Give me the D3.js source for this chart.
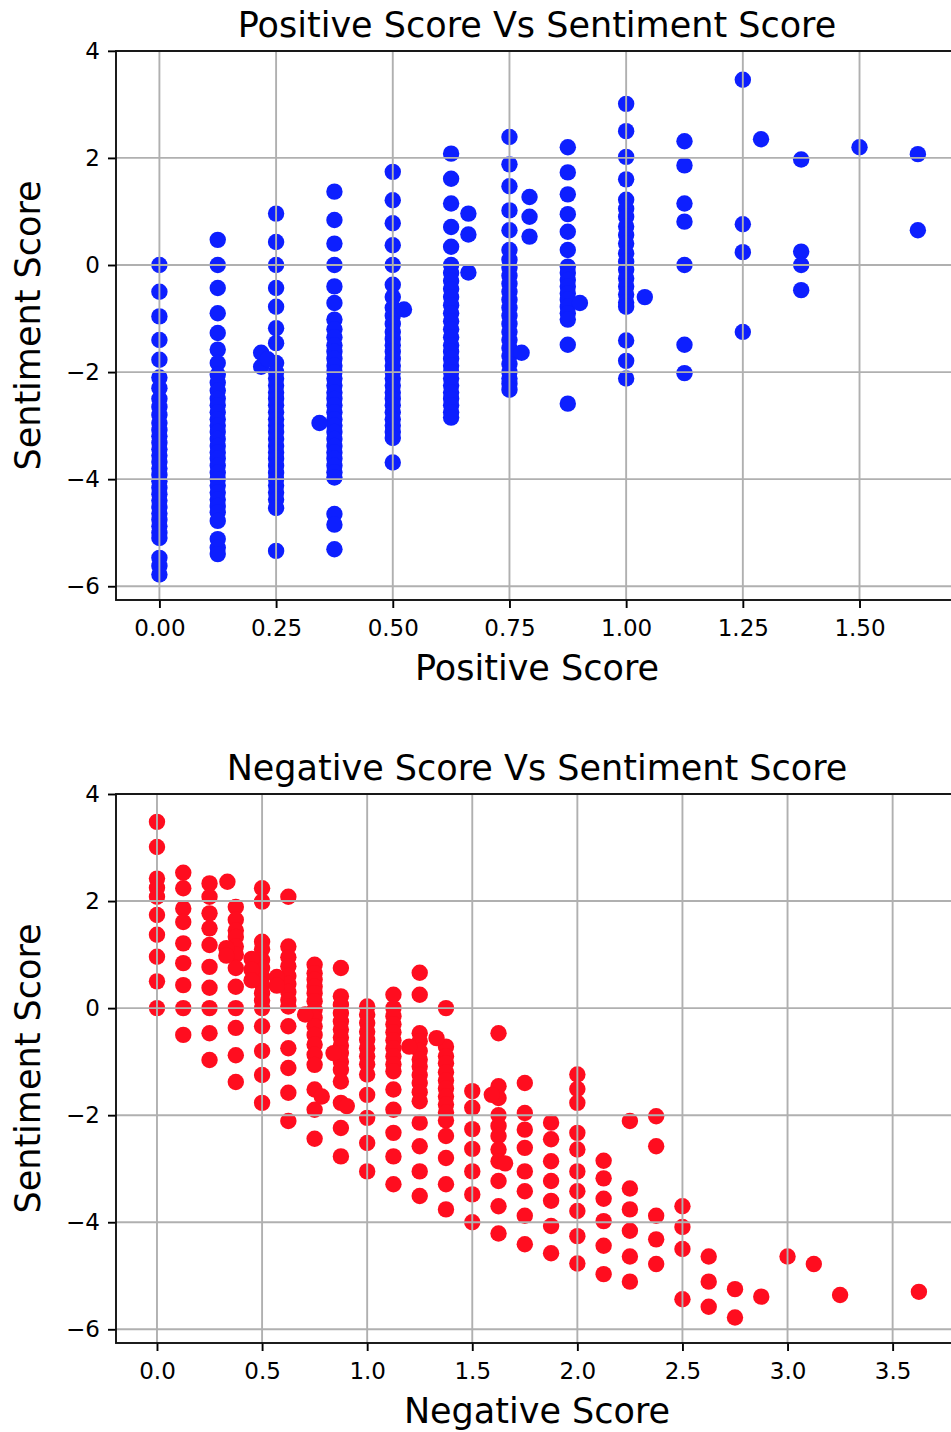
<!DOCTYPE html>
<html>
<head>
<meta charset="utf-8">
<script src="https://cdn.jsdelivr.net/npm/d3@7"></script>
<style>
  body { margin: 0; background: #fff; }
  svg text { font-family: "DejaVu Sans", sans-serif; fill: #000; }
</style>
</head>
<body>
<div id="graf"></div>
<script>
// Datos: Positive Score (columnas) vs Sentiment Score
const posCols = [0, 0.125, 0.25, 0.375, 0.5, 0.625, 0.75, 0.875, 1, 1.125, 1.25, 1.375, 1.5, 1.625]
const posSentiment = [
  [0, -0.5, -0.96, -1.4, -1.77, -2.1, -2.3, -2.5, -2.65, -2.8, -2.95, -3.08, -3.2, -3.32, -3.44, -3.56, -3.68, -3.8, -3.92, -4.04, -4.16, -4.28, -4.4, -4.52, -4.64, -4.76, -4.88, -5.0, -5.1, -5.47, -5.62, -5.78],
  [0.47, 0, -0.43, -0.9, -1.27, -1.58, -1.83, -2.05, -2.2, -2.35, -2.5, -2.62, -2.75, -2.88, -3.0, -3.12, -3.25, -3.38, -3.5, -3.62, -3.75, -3.88, -4.0, -4.12, -4.25, -4.38, -4.5, -4.62, -4.78, -5.12, -5.28, -5.4],
  [0.96, 0.43, 0, -0.43, -0.78, -1.18, -1.46, -1.83, -2.0, -2.12, -2.25, -2.38, -2.5, -2.62, -2.75, -2.88, -3.0, -3.12, -3.25, -3.38, -3.5, -3.62, -3.75, -3.88, -4.0, -4.12, -4.25, -4.38, -4.54, -5.34],
  [1.37, 0.84, 0.4, 0, -0.4, -0.71, -1.02, -1.2, -1.35, -1.5, -1.62, -1.75, -1.88, -2.0, -2.12, -2.25, -2.38, -2.5, -2.62, -2.75, -2.88, -3.0, -3.12, -3.25, -3.38, -3.5, -3.62, -3.75, -3.87, -3.97, -4.65, -4.85, -5.31],
  [1.74, 1.21, 0.78, 0.37, 0, -0.37, -0.6, -0.8, -0.95, -1.1, -1.25, -1.38, -1.5, -1.62, -1.75, -1.88, -2.0, -2.12, -2.25, -2.38, -2.5, -2.62, -2.75, -2.88, -3.0, -3.12, -3.23, -3.69],
  [2.08, 1.61, 1.15, 0.71, 0.34, 0, -0.15, -0.3, -0.45, -0.6, -0.75, -0.9, -1.05, -1.2, -1.35, -1.5, -1.62, -1.75, -1.88, -2.0, -2.12, -2.25, -2.38, -2.5, -2.62, -2.75, -2.85],
  [2.39, 1.88, 1.47, 1.02, 0.65, 0.28, 0.1, -0.05, -0.2, -0.35, -0.5, -0.65, -0.8, -0.95, -1.1, -1.25, -1.4, -1.55, -1.7, -1.85, -2.0, -2.12, -2.22, -2.33],
  [2.2, 1.73, 1.32, 0.95, 0.62, 0.28, -0.03, -0.15, -0.28, -0.4, -0.53, -0.65, -0.78, -0.9, -1.02, -1.49, -2.59],
  [3.01, 2.5, 2.02, 1.6, 1.22, 1.05, 0.9, 0.72, 0.56, 0.4, 0.22, 0.06, -0.09, -0.25, -0.4, -0.55, -0.7, -0.78, -1.41, -1.79, -2.12],
  [2.31, 1.86, 1.15, 0.81, 0, -1.49, -2.02],
  [3.46, 0.76, 0.24, -1.25],
  [1.97, 0.25, 0, -0.47],
  [2.2],
  [2.07, 0.65]
]
const posOddX = [0.218, 0.218, 0.232, 0.343, 0.524, 0.662, 0.662, 0.662, 0.776, 0.793, 0.793, 0.793, 0.901, 1.04, 1.289]
const posOddY = [-1.64, -1.9, -1.76, -2.95, -0.83, 0.96, 0.57, -0.14, -1.64, 1.27, 0.9, 0.53, -0.71, -0.6, 2.35]

// Datos: Negative Score (columnas) vs Sentiment Score
const negCols = [0, 0.125, 0.25, 0.375, 0.5, 0.625, 0.75, 0.875, 1, 1.125, 1.25, 1.375, 1.5, 1.625, 1.75, 1.875, 2, 2.125, 2.25, 2.375, 2.5, 2.625, 2.75, 2.875, 3, 3.125, 3.25, 3.625]
const negSentiment = [
  [3.48, 3.01, 2.42, 2.25, 2.08, 1.74, 1.37, 0.96, 0.5, 0],
  [2.53, 2.24, 1.86, 1.61, 1.21, 0.84, 0.43, 0, -0.5],
  [2.33, 2.08, 1.77, 1.49, 1.18, 0.77, 0.38, 0, -0.47, -0.97],
  [1.89, 1.65, 1.45, 1.33, 1.15, 1.0, 0.75, 0.4, 0, -0.37, -0.88, -1.38],
  [2.24, 1.99, 1.24, 1.1, 0.9, 0.75, 0.59, 0.44, 0.28, 0.14, 0, -0.34, -0.8, -1.25, -1.77],
  [2.08, 1.15, 0.95, 0.78, 0.6, 0.45, 0.3, 0.15, 0.03, -0.34, -0.75, -1.12, -1.58, -2.11],
  [0.81, 0.65, 0.53, 0.4, 0.28, 0.13, -0.03, -0.18, -0.34, -0.5, -0.68, -0.87, -1.06, -1.52, -1.9, -2.44],
  [0.75, 0.22, 0.06, -0.09, -0.25, -0.4, -0.55, -0.7, -0.84, -1.0, -1.15, -1.37, -1.77, -2.24, -2.77],
  [0.03, -0.12, -0.28, -0.44, -0.59, -0.75, -0.9, -1.05, -1.24, -1.62, -2.05, -2.52, -3.05],
  [0.25, 0, -0.15, -0.3, -0.45, -0.6, -0.75, -0.9, -1.05, -1.18, -1.52, -1.9, -2.33, -2.77, -3.29],
  [0.66, 0.25, -0.47, -0.62, -0.8, -0.96, -1.09, -1.25, -1.4, -1.57, -1.74, -2.14, -2.58, -3.05, -3.51],
  [0, -0.72, -0.9, -1.03, -1.2, -1.35, -1.5, -1.65, -1.8, -1.95, -2.1, -2.39, -2.8, -3.29, -3.76],
  [-1.55, -1.86, -2.26, -2.63, -3.05, -3.48, -4.0],
  [-0.47, -1.46, -1.68, -2.0, -2.2, -2.39, -2.64, -2.86, -3.23, -3.7, -4.21],
  [-1.4, -1.96, -2.27, -2.61, -3.05, -3.42, -3.88, -4.41],
  [-2.14, -2.45, -2.86, -3.23, -3.6, -4.07, -4.58],
  [-1.24, -1.51, -1.77, -2.33, -2.64, -3.05, -3.42, -3.79, -4.26, -4.77],
  [-2.85, -3.18, -3.56, -3.98, -4.44, -4.97],
  [-2.11, -3.37, -3.76, -4.16, -4.64, -5.11],
  [-2.02, -2.58, -3.88, -4.32, -4.78],
  [-3.7, -4.09, -4.5, -5.44],
  [-4.64, -5.11, -5.58],
  [-5.25, -5.78],
  [-5.39],
  [-4.64],
  [-4.78],
  [-5.36],
  [-5.3]
]
const negOddX = [0.335, 0.33, 0.33, 0.45, 0.45, 0.45, 0.57, 0.57, 0.705, 0.784, 0.84, 0.903, 1.2, 1.33, 1.593, 1.656]
const negOddY = [2.36, 1.12, 0.98, 0.92, 0.72, 0.52, 0.58, 0.42, -0.12, -1.65, -0.84, -1.83, -0.72, -0.56, -1.62, -2.9]

// Ticks
const posTicksX = [0, 0.25, 0.5, 0.75, 1, 1.25, 1.5]
const negTicksX = [0, 0.5, 1, 1.5, 2, 2.5, 3, 3.5]
const sentTicks = [-6, -4, -2, 0, 2, 4]

// Dimensiones
const anchoTotal = 951
const altoTotal = 1432
const izq = 116
const der = 958

const svg = d3.select("#graf")
  .append("svg")
  .attr("width", anchoTotal)
  .attr("height", altoTotal)

const toPoints = (cols, vals, oddX, oddY) => {
  const pts = []
  cols.forEach((c, i) => vals[i].forEach((v) => pts.push({ x: c, y: v })))
  oddX.forEach((x, i) => pts.push({ x: x, y: oddY[i] }))
  return pts
}

const panel = (cfg) => {
  const x = d3.scaleLinear().domain(cfg.xDom).range([izq, der])
  const y = d3.scaleLinear().domain(cfg.yDom).range([cfg.bottom, cfg.top])

  svg.append("clipPath")
    .attr("id", cfg.id)
    .append("rect")
    .attr("x", izq)
    .attr("y", cfg.top)
    .attr("width", der - izq)
    .attr("height", cfg.bottom - cfg.top)

  // puntos
  svg.append("g")
    .attr("clip-path", `url(#${cfg.id})`)
    .selectAll("circle")
    .data(cfg.points)
    .join("circle")
    .attr("cx", (d) => x(d.x))
    .attr("cy", (d) => y(d.y))
    .attr("r", 8.2)
    .attr("fill", cfg.color)

  // grilla (encima de los puntos, como en matplotlib)
  const grid = svg.append("g")
    .attr("stroke", "#b0b0b0")
    .attr("stroke-width", 1.9)
  grid.selectAll(".gx")
    .data(cfg.ticksX)
    .join("line")
    .attr("x1", (d) => x(d)).attr("x2", (d) => x(d))
    .attr("y1", cfg.top).attr("y2", cfg.bottom)
  grid.selectAll(".gy")
    .data(sentTicks)
    .join("line")
    .attr("class", "gy")
    .attr("x1", izq).attr("x2", der)
    .attr("y1", (d) => y(d)).attr("y2", (d) => y(d))

  // ejes
  const xAxis = d3.axisBottom(x)
    .tickValues(cfg.ticksX)
    .tickFormat(d3.format(cfg.fmt))
    .tickSizeInner(8)
    .tickSizeOuter(0)
    .tickPadding(12)
  const yAxis = d3.axisLeft(y)
    .tickValues(sentTicks)
    .tickFormat(d3.format("d"))
    .tickSizeInner(8)
    .tickSizeOuter(0)
    .tickPadding(8)

  const gx = svg.append("g")
    .attr("transform", `translate(0, ${cfg.bottom})`)
    .call(xAxis)
  const gy = svg.append("g")
    .attr("transform", `translate(${izq}, 0)`)
    .call(yAxis)
  ;[gx, gy].forEach((g) => {
    g.select(".domain").remove()
    g.selectAll(".tick line").attr("stroke", "#000").attr("stroke-width", 1.9)
    g.selectAll(".tick text")
      .attr("fill", "#222")
      .style("font-size", "23px")
      .style("font-family", "DejaVu Sans")
  })

  // marco
  svg.append("rect")
    .attr("x", izq)
    .attr("y", cfg.top)
    .attr("width", der - izq)
    .attr("height", cfg.bottom - cfg.top)
    .attr("fill", "none")
    .attr("stroke", "#111")
    .attr("stroke-width", 1.9)

  // Títulos
  svg.append("text")
    .attr("x", (izq + der) / 2)
    .attr("y", cfg.top - 14)
    .attr("text-anchor", "middle")
    .style("font-size", "35px")
    .attr("fill", "#222")
    .text(cfg.title)

  svg.append("text")
    .attr("x", (izq + der) / 2)
    .attr("y", cfg.bottom + 80)
    .attr("text-anchor", "middle")
    .style("font-size", "35px")
    .attr("fill", "#222")
    .text(cfg.xLabel)

  svg.append("text")
    .attr("transform", `translate(40, ${(cfg.top + cfg.bottom) / 2}) rotate(-90)`)
    .attr("text-anchor", "middle")
    .style("font-size", "35px")
    .attr("fill", "#222")
    .text("Sentiment Score")
}

panel({
  id: "clipPos",
  top: 51,
  bottom: 600,
  xDom: [-0.093, 1.711],
  yDom: [-6.257, 3.997],
  ticksX: posTicksX,
  fmt: ".2f",
  color: "#0d1fff",
  title: "Positive Score Vs Sentiment Score",
  xLabel: "Positive Score",
  points: toPoints(posCols, posSentiment, posOddX, posOddY),
})

panel({
  id: "clipNeg",
  top: 794,
  bottom: 1343,
  xDom: [-0.195, 3.811],
  yDom: [-6.256, 4.0],
  ticksX: negTicksX,
  fmt: ".1f",
  color: "#ff0d1f",
  title: "Negative Score Vs Sentiment Score",
  xLabel: "Negative Score",
  points: toPoints(negCols, negSentiment, negOddX, negOddY),
})
</script>
</body>
</html>
